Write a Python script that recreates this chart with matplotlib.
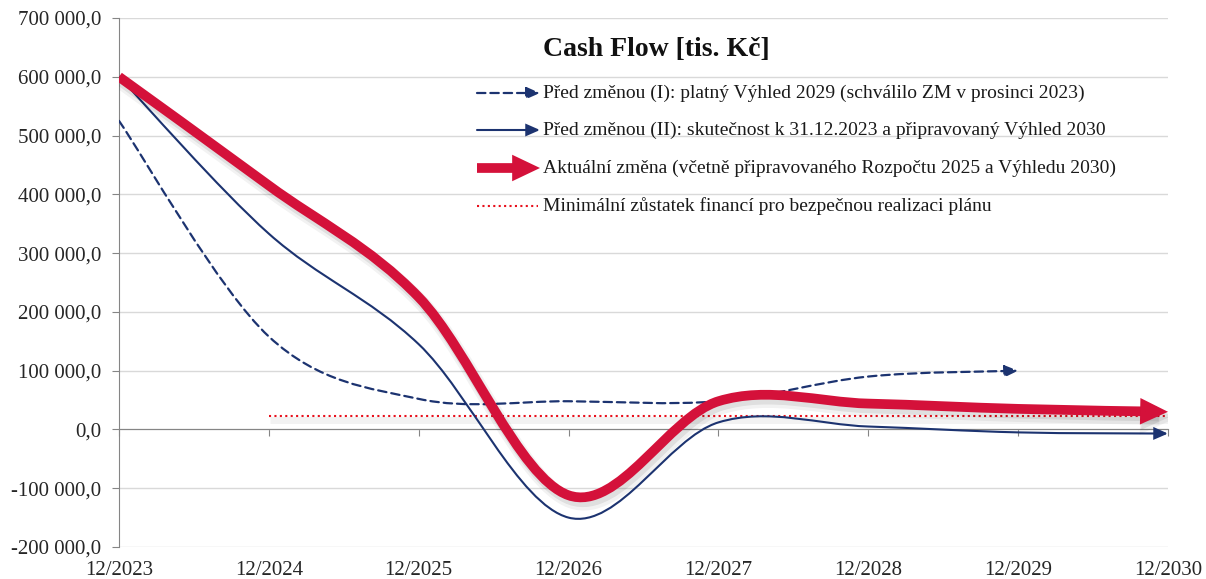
import numpy as np
import matplotlib
matplotlib.use("Agg")
import matplotlib.pyplot as plt
import matplotlib.patheffects as pe
import matplotlib.transforms as mtransforms
from matplotlib.path import Path
from matplotlib.patches import FancyArrowPatch
from matplotlib.ticker import FuncFormatter

# x positions: years after 12/2023
tick_labels = ["12/2023", "12/2024", "12/2025", "12/2026",
               "12/2027", "12/2028", "12/2029", "12/2030"]

# Před změnou (I): platný Výhled 2029
years_i = [0, 1, 2, 3, 4, 5, 6]
values_i = [525000, 158000, 52000, 48000, 48000, 90000, 100000]

# Před změnou (II): skutečnost k 31.12.2023 a připravovaný Výhled 2030
years_ii = [0, 1, 2, 3, 4, 5, 6, 7]
values_ii = [600000, 333000, 145000, -150000, 12000, 5000, -5000, -7000]

# Aktuální změna
years_now = [0, 1, 2, 3, 4, 5, 6, 7]
values_now = [600000, 415000, 225000, -112000, 48000, 44000, 35000, 30000]

# Minimální zůstatek financí
years_min = [1, 7]
values_min = [23000, 23000]

navy = "#1c3370"
red = "#d4113a"
dot_red = "#e8101c"
W, H = 1206, 579

plt.rcParams["font.family"] = ["Liberation Serif", "DejaVu Serif"]

fig = plt.figure(figsize=(W / 100, H / 100), dpi=100)
ax = fig.add_axes([119 / W, 1 - 547 / H, (1168 - 119) / W, (547 - 18) / H])


def smooth_path(xs, ys):
    # smoothed line like in the spreadsheet (Catmull-Rom as cubic Bezier)
    pts = np.column_stack([xs, ys]).astype(float)
    n = len(pts)
    verts = [pts[0]]
    codes = [Path.MOVETO]
    for i in range(n - 1):
        p0 = pts[i - 1] if i > 0 else pts[i]
        p1 = pts[i]
        p2 = pts[i + 1]
        p3 = pts[i + 2] if i + 2 < n else pts[i + 1]
        verts += [p1 + (p2 - p0) / 6, p2 - (p3 - p1) / 6, p2]
        codes += [Path.CURVE4] * 3
    return Path(verts, codes)


shadow = [pe.SimpleLineShadow(offset=(2, -4), shadow_color="k", alpha=0.05, linewidth=11),
          pe.SimpleLineShadow(offset=(1.5, -3), shadow_color="k", alpha=0.08, linewidth=8),
          pe.Normal()]

# minimum balance line with a soft shadow under it
shift = mtransforms.offset_copy(ax.transData, fig=fig, x=1, y=-4, units="dots")
ax.plot(years_min, values_min, color="k", alpha=0.05, lw=5, solid_capstyle="butt",
        transform=shift, zorder=2)
ax.plot(years_min, values_min, color=dot_red, lw=1.5, ls=(0, (1, 1.6)), zorder=3)

head_blue = "-|>,head_length=0.5,head_width=0.22"
head_red = "-|>,head_length=0.42,head_width=0.2"

line_i = FancyArrowPatch(path=smooth_path(years_i, values_i), arrowstyle=head_blue,
                         mutation_scale=16, color=navy, lw=1.6, ls=(0, (3.8, 2.2)),
                         joinstyle="miter", zorder=4)
ax.add_patch(line_i)

line_ii = FancyArrowPatch(path=smooth_path(years_ii, values_ii), arrowstyle=head_blue,
                          mutation_scale=16, color=navy, lw=1.5, joinstyle="miter", zorder=4)
ax.add_patch(line_ii)

line_now = FancyArrowPatch(path=smooth_path(years_now, values_now), arrowstyle=head_red,
                           mutation_scale=20, color=red, lw=7, joinstyle="miter",
                           capstyle="butt", zorder=5, path_effects=shadow)
ax.add_patch(line_now)

ax.set_xlim(0, 7)
ax.set_ylim(-200000, 700000)
ax.set_yticks(np.arange(-200000, 700001, 100000))
ax.set_xticks(range(len(tick_labels)))
ax.set_xticklabels(tick_labels)


def fmt(v, pos):
    s = f"{abs(v):,.1f}".replace(",", " ").replace(".", ",")
    return ("-" if v < 0 else "") + s


ax.yaxis.set_major_formatter(FuncFormatter(fmt))
ax.grid(axis="y", color="#d9d9d9", lw=1)
ax.set_axisbelow(True)

for s in ["right", "bottom"]:
    ax.spines[s].set_visible(False)
ax.spines["left"].set_color("#858585")
ax.spines["top"].set_position(("data", 0))
ax.spines["top"].set_color("#858585")
ax.spines["top"].set_zorder(2)

ax.tick_params(axis="x", top=True, bottom=False, labelbottom=True, labeltop=False,
               direction="in", length=5, color="#858585", pad=10, labelsize=15,
               labelcolor="#262626")
ax.tick_params(axis="y", direction="out", length=5, color="#858585", pad=8,
               labelsize=15, labelcolor="#262626")

# legend
fig.text(543 / W, 1 - 50 / H, "Cash Flow [tis. Kč]", fontsize=20, fontweight="bold",
         va="center", ha="left", color="#111111")
legend_rows = [
    ("Před změnou (I): platný Výhled 2029 (schválilo ZM v prosinci 2023)", 93,
     dict(arrowstyle=head_blue, mutation_scale=16, color=navy, lw=1.6, ls=(0, (3.8, 2.2)),
          joinstyle="miter")),
    ("Před změnou (II): skutečnost k 31.12.2023 a připravovaný Výhled 2030", 130,
     dict(arrowstyle=head_blue, mutation_scale=16, color=navy, lw=1.5, joinstyle="miter")),
    ("Aktuální změna (včetně připravovaného Rozpočtu 2025 a Výhledu 2030)", 168,
     dict(arrowstyle=head_red, mutation_scale=20, color=red, lw=7, joinstyle="miter",
          capstyle="butt")),
]
for label, y, props in legend_rows:
    ax.annotate("", xy=(540 / W, 1 - y / H), xytext=(477 / W, 1 - y / H),
                xycoords="figure fraction", textcoords="figure fraction",
                arrowprops=dict(shrinkA=0, shrinkB=0, **props))
    fig.text(543 / W, 1 - y / H, label, fontsize=14, va="center", ha="left", color="#1a1a1a")

fig.add_artist(plt.Line2D([477 / W, 538 / W], [1 - 206 / H] * 2, color=dot_red,
                          lw=1.5, ls=(0, (1, 1.6))))
fig.text(543 / W, 1 - 206 / H, "Minimální zůstatek financí pro bezpečnou realizaci plánu",
         fontsize=14, va="center", ha="left", color="#1a1a1a")

fig.savefig("out.png", dpi=100)
